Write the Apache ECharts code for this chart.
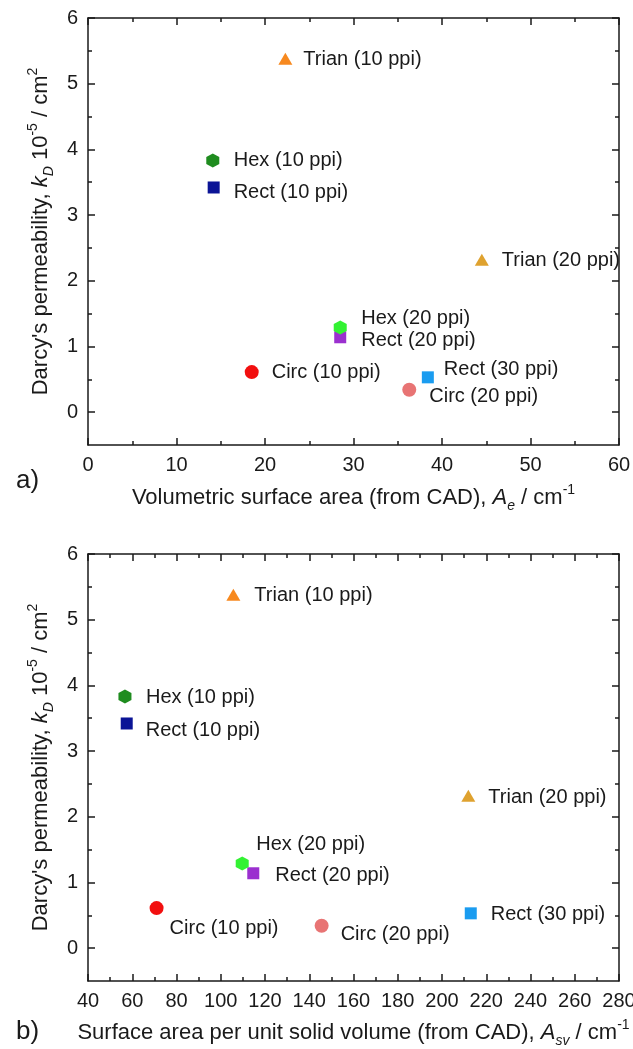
<!DOCTYPE html>
<html>
<head>
<meta charset="utf-8">
<script src="https://cdn.jsdelivr.net/npm/echarts@6/dist/echarts.min.js"></script>
<style>
  html, body { margin: 0; padding: 0; background: #fff; }
  #chart { width: 633px; height: 1049px; }
</style>
</head>
<body>
<div id="chart"></div>
<script>
// data
var names = ['Trian (10 ppi)', 'Hex (10 ppi)', 'Rect (10 ppi)', 'Trian (20 ppi)', 'Rect (20 ppi)',
             'Hex (20 ppi)', 'Circ (10 ppi)', 'Rect (30 ppi)', 'Circ (20 ppi)'];
var kD  = [5.38, 3.83, 3.42, 2.32, 1.14, 1.29, 0.61, 0.53, 0.34];
var Ae  = [22.3, 14.1, 14.2, 44.5, 28.5, 28.5, 18.5, 38.4, 36.3];
var Asv = [105.7, 56.7, 57.5, 211.9, 114.7, 109.7, 71.0, 213.0, 145.6];

var yMajor = [0, 1, 2, 3, 4, 5, 6];
var yMinor = [0.5, 1.5, 2.5, 3.5, 4.5, 5.5];

// marker styles
var hexPath = 'path://M0,-1 L0.866,-0.5 L0.866,0.5 L0,1 L-0.866,0.5 L-0.866,-0.5 Z';
var symbols = ['triangle', hexPath, 'rect', 'triangle', 'rect', hexPath, 'circle', 'rect', 'circle'];
var sizes = [[14, 12], [13, 14], [12, 12], [14, 12], [12, 12], [13, 14], [14, 14], [12, 12], [14, 14]];
var colors = ['#f7891f', '#1f8c1f', '#0b1496', '#dfa22f', '#9b30cf', '#33f233', '#f20f0f', '#1a9cf0', '#e87474'];

// label placement (dx, dy from marker centre)
var offsA = [[18, 1], [21, 0], [20, 5], [20, 1], [21, 3], [21, -9], [20, 0], [16, -8], [20, 7]];
var offsB = [[21, 1], [21, 1], [19, 7], [20, 2], [22, 2], [14, -19], [13, 20], [20, 1], [19, 9]];

var FONT = 'Liberation Sans, Arial, Helvetica, sans-serif';
var TXT = '#1a1a1a';

var richName = {
  i:   { fontStyle: 'italic', fontSize: 22, fontFamily: FONT, color: TXT, lineHeight: 30 },
  sub: { fontStyle: 'italic', fontSize: 14, fontFamily: FONT, color: TXT, lineHeight: 12, verticalAlign: 'bottom' },
  sup: { fontSize: 14, fontFamily: FONT, color: TXT, lineHeight: 20, verticalAlign: 'top' }
};
var nameStyle = { fontSize: 22, fontFamily: FONT, color: TXT, lineHeight: 30, rich: richName };

function makeSeries(xs, offs, xi, yi) {
  var data = [];
  for (var k = 0; k < names.length; k++) {
    data.push({
      name: names[k],
      value: [xs[k], kD[k]],
      symbol: symbols[k],
      symbolSize: sizes[k],
      itemStyle: { color: colors[k], opacity: 1 },
      label: { offset: offs[k] }
    });
  }
  return {
    type: 'scatter',
    xAxisIndex: xi,
    yAxisIndex: yi,
    data: data,
    itemStyle: { opacity: 1 },
    label: {
      show: true,
      position: 'inside',
      align: 'left',
      verticalAlign: 'middle',
      formatter: '{b}',
      color: TXT,
      fontSize: 20,
      fontFamily: FONT
    },
    emphasis: { disabled: true }
  };
}

function xPair(grid, min, max, interval, name, gap) {
  var base = {
    type: 'value', gridIndex: grid, min: min, max: max, interval: interval,
    axisLine: { show: true, onZero: false, lineStyle: { color: TXT, width: 1.5 } },
    axisTick: { show: true, inside: true, length: 7, lineStyle: { color: TXT, width: 1.5 } },
    minorTick: { show: true, splitNumber: 2, length: 4, lineStyle: { color: TXT, width: 1.5 } },
    splitLine: { show: false }
  };
  var bottom = Object.assign({}, base, {
    position: 'bottom',
    axisLabel: { show: true, margin: 10, fontSize: 20, fontFamily: FONT, color: TXT },
    name: name, nameLocation: 'middle', nameGap: gap, nameTextStyle: nameStyle
  });
  var top = Object.assign({}, base, { position: 'top', axisLabel: { show: false } });
  return [bottom, top];
}

function yAxes(grid, name) {
  function ax(pos, ticks, len, labels, line) {
    var a = {
      type: 'value', gridIndex: grid, position: pos, min: -0.5, max: 6,
      axisLine: { show: line, onZero: false, lineStyle: { color: TXT, width: 1.5 } },
      axisTick: { show: true, inside: true, length: len, customValues: ticks, lineStyle: { color: TXT, width: 1.5 } },
      axisLabel: labels ? { show: true, customValues: yMajor, margin: 10, fontSize: 20, fontFamily: FONT, color: TXT } : { show: false },
      splitLine: { show: false }
    };
    if (labels) {
      a.name = name;
      a.nameLocation = 'middle';
      a.nameGap = 23;
      a.nameTextStyle = nameStyle;
    }
    return a;
  }
  return [
    ax('left', yMajor, 7, true, true),
    ax('left', yMinor, 4, false, false),
    ax('right', yMajor, 7, false, true),
    ax('right', yMinor, 4, false, false)
  ];
}

var yName = "Darcy's permeability, {i|k}{sub|D} 10{sup|-5} / cm{sup|2}";

var chart = echarts.init(document.getElementById('chart'));
chart.setOption({
  animation: false,
  backgroundColor: '#fff',
  title: [
    { text: 'a)', left: 11, top: 463, textStyle: { fontSize: 26, fontWeight: 'normal', fontFamily: FONT, color: TXT } },
    { text: 'b)', left: 11, top: 1014, textStyle: { fontSize: 26, fontWeight: 'normal', fontFamily: FONT, color: TXT } }
  ],
  grid: [
    { left: 88, top: 18, width: 531, height: 427, outerBoundsMode: 'none', containLabel: false },
    { left: 88, top: 554, width: 531, height: 427, outerBoundsMode: 'none', containLabel: false }
  ],
  xAxis: [].concat(
    xPair(0, 0, 60, 10, 'Volumetric surface area (from CAD), {i|A}{sub|e} / cm{sup|-1}', 38),
    xPair(1, 40, 280, 20, 'Surface area per unit solid volume (from CAD), {i|A}{sub|sv} / cm{sup|-1}', 37)
  ),
  yAxis: [].concat(yAxes(0, yName), yAxes(1, yName)),
  series: [
    makeSeries(Ae, offsA, 0, 0),
    makeSeries(Asv, offsB, 2, 4)
  ]
});
window.addEventListener('resize', function () { chart.resize(); });
</script>
</body>
</html>
